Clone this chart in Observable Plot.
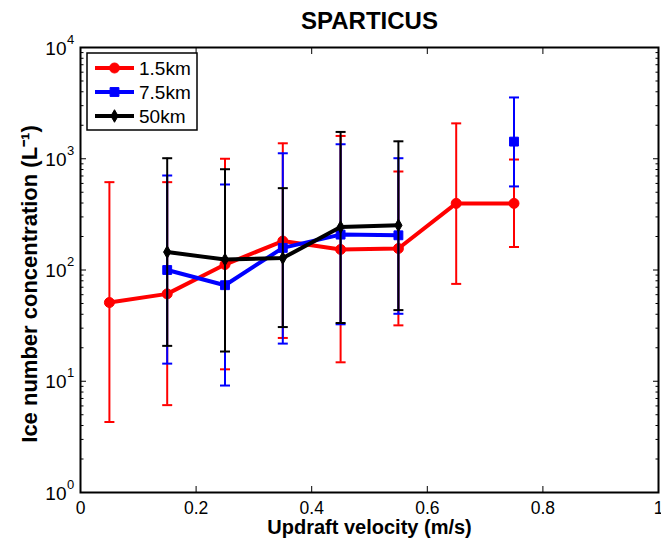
<!DOCTYPE html>
<html><head><meta charset="utf-8">
<script src="https://cdn.jsdelivr.net/npm/d3@7"></script>
<script src="https://cdn.jsdelivr.net/npm/@observablehq/plot@0.6"></script>
<style>body{margin:0;background:#fff} svg{display:block}</style>
</head><body><div id="chart"></div>
<script>
// ---- data ----
const titleText = "SPARTICUS";
const xLabel = "Updraft velocity (m/s)";
const yLabel = "Ice number concentration (L⁻¹)";
const seriesNames = ["1.5km", "7.5km", "50km"];
const seriesColors = ["#ff0000", "#0000ff", "#000000"];

const xRed = [0.05, 0.15, 0.25, 0.35, 0.45, 0.55, 0.65, 0.75];
const redMean = [51, 61, 112, 182, 153, 156, 397, 397];
const redLow = [4.3, 6.1, 12.8, 24.5, 14.8, 31.8, 75, 161];
const redHigh = [616, 616, 1000, 1377, 1603, 768, 2080, 984];

const xBlue = [0.15, 0.25, 0.35, 0.45, 0.55, 0.65, 0.75];
const blueMean = [100, 73, 158, 208, 205, null, 1426];
const blueLow = [14.4, 9.15, 21.8, 32.5, 40.4, null, 564];
const blueHigh = [707, 587, 1120, 1350, 1011, null, 3556];

const xBlack = [0.15, 0.25, 0.35, 0.45, 0.55];
const blackMean = [145, 124, 128, 243, 252];
const blackLow = [20.8, 18.5, 30.7, 33.4, 43.6];
const blackHigh = [1011, 805, 544, 1742, 1435];

const xTicks = [0, 0.2, 0.4, 0.6, 0.8, 1];
const xTickLabels = ["0", "0.2", "0.4", "0.6", "0.8", "1"];
const yMajor = [1, 10, 100, 1000, 10000];
const yExponents = ["0", "1", "2", "3", "4"];
const yMinor = [];
for (let k = 0; k < 4; k++) for (let m = 2; m <= 9; m++) yMinor.push(m * Math.pow(10, k));

// ---- helpers ----
function rows(xs, v, lo, hi) {
  return xs.map((x, i) => ({x, v: v[i], lo: lo[i], hi: hi[i]}));
}
const capSymbol = {
  draw(context, size) {
    const w = Math.sqrt(size / Math.PI);
    context.moveTo(-w, 0);
    context.lineTo(w, 0);
  }
};
function seriesMarks(data, color, symbol, r) {
  const d = data.filter(e => e.v != null);
  return [
    Plot.ruleX(d, {x: "x", y1: "lo", y2: "hi", stroke: color, strokeWidth: 2}),
    Plot.dot(d, {x: "x", y: "hi", symbol: capSymbol, r: 5, stroke: color, fill: "none", strokeWidth: 2}),
    Plot.dot(d, {x: "x", y: "lo", symbol: capSymbol, r: 5, stroke: color, fill: "none", strokeWidth: 2}),
    Plot.line(data, {x: "x", y: "v", stroke: color, strokeWidth: 4, curve: "linear"}),
    Plot.dot(d, {x: "x", y: "v", symbol, r, fill: color, stroke: color, strokeWidth: 1})
  ];
}

const red = rows(xRed, redMean, redLow, redHigh);
const blue = rows(xBlue, blueMean, blueLow, blueHigh);
const black = rows(xBlack, blackMean, blackLow, blackHigh);

const font = "'Liberation Sans', Arial, Helvetica, sans-serif";

const svg = Plot.plot({
  width: 661,
  height: 540,
  marginLeft: 80,
  marginRight: 3,
  marginTop: 47,
  marginBottom: 48,
  style: {fontFamily: font, background: "#fff", color: "#000"},
  x: {domain: [0, 1], label: null},
  y: {type: "log", domain: [1, 10000], label: null},
  marks: [
    ...seriesMarks(red, seriesColors[0], "circle", 5),
    ...seriesMarks(blue, seriesColors[1], "square", 5),
    ...seriesMarks(black, seriesColors[2], "diamond", 3.8),
    // inward ticks
    Plot.axisX({anchor: "bottom", ticks: xTicks, tickSize: -6, tickFormat: () => "", label: null, strokeWidth: 1}),
    Plot.axisX({anchor: "top", ticks: xTicks, tickSize: -6, tickFormat: () => "", label: null, strokeWidth: 1}),
    Plot.axisY({anchor: "left", ticks: yMajor, tickSize: -6, tickFormat: () => "", label: null, strokeWidth: 1}),
    Plot.axisY({anchor: "right", ticks: yMajor, tickSize: -6, tickFormat: () => "", label: null, strokeWidth: 1}),
    Plot.axisY({anchor: "left", ticks: yMinor, tickSize: -3.5, tickFormat: () => "", label: null, strokeWidth: 1}),
    Plot.axisY({anchor: "right", ticks: yMinor, tickSize: -3.5, tickFormat: () => "", label: null, strokeWidth: 1}),
    // tick labels
    Plot.axisX({anchor: "bottom", ticks: xTicks, tickSize: 0, tickPadding: 9, tickFormat: (d, i) => xTickLabels[i], label: null, fontSize: 17.5}),
    Plot.text(yMajor, {y: d => d, text: () => "10", frameAnchor: "left", textAnchor: "end", dx: -14, dy: 1, fontSize: 19, fill: "#000"}),
    Plot.text(yMajor, {y: d => d, text: (d, i) => yExponents[i], frameAnchor: "left", textAnchor: "start", dx: -13.5, dy: -8, fontSize: 13, fill: "#000"}),
    // labels
    Plot.text([titleText], {frameAnchor: "top", lineAnchor: "middle", textAnchor: "middle", dy: -26, fontSize: 24, fontWeight: "bold", fill: "#000"}),
    Plot.text([xLabel], {frameAnchor: "bottom", lineAnchor: "middle", textAnchor: "middle", dy: 35, fontSize: 20, fontWeight: "bold", fill: "#000"}),
    Plot.text([yLabel], {frameAnchor: "left", lineAnchor: "middle", textAnchor: "middle", rotate: -90, dx: -51, dy: 14, fontSize: 22, fontWeight: "bold", fill: "#000"}),
    Plot.frame({stroke: "#000", strokeWidth: 2})
  ]
});

// ---- legend (drawn inside the axes, upper-left) ----
const lg = d3.select(svg).append("g").attr("font-family", font).attr("text-anchor", "start");
lg.append("rect").attr("x", 87).attr("y", 53).attr("width", 110).attr("height", 77)
  .attr("fill", "#fff").attr("stroke", "#000").attr("stroke-width", 1.5);
const symbols = [d3.symbolCircle, d3.symbolSquare, d3.symbolDiamond];
const symSizes = [Math.PI * 25, Math.PI * 25, Math.PI * 3.8 * 3.8];
seriesNames.forEach((name, i) => {
  const cy = 68 + i * 24;
  lg.append("line").attr("x1", 95).attr("x2", 134).attr("y1", cy).attr("y2", cy)
    .attr("stroke", seriesColors[i]).attr("stroke-width", 4);
  lg.append("path").attr("d", d3.symbol(symbols[i], symSizes[i])())
    .attr("transform", `translate(114.5,${cy})`).attr("fill", seriesColors[i]).attr("stroke", seriesColors[i]);
  lg.append("text").attr("x", 139).attr("y", cy).attr("dy", "0.35em")
    .attr("text-anchor", "start").attr("font-size", 19).attr("fill", "#000").text(name);
});

document.getElementById("chart").appendChild(svg);
</script></body></html>
